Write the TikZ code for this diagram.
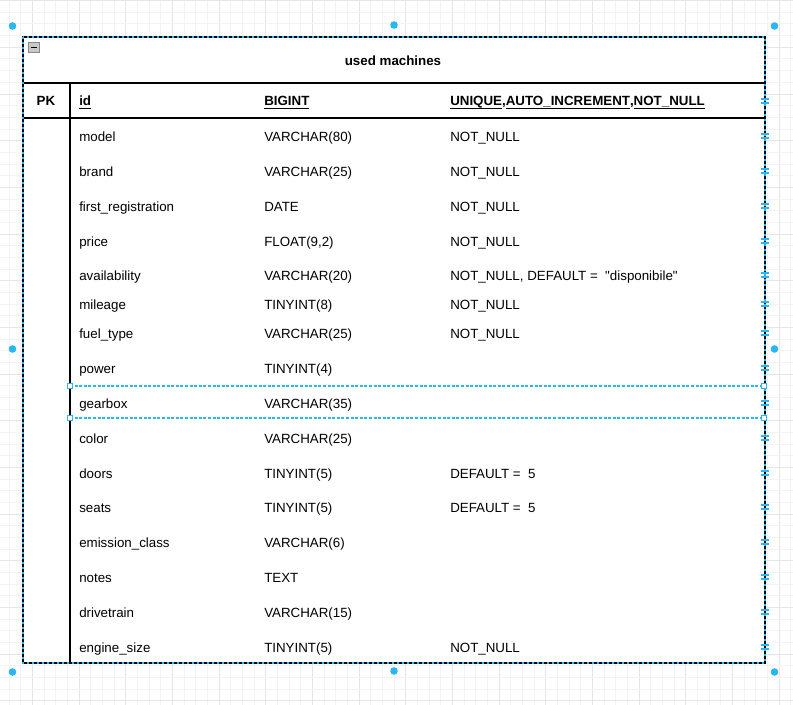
\documentclass[tikz,border=0pt]{standalone}
\usepackage{fontspec}
\setmainfont{Liberation Sans}
\newfontfamily\qfont{Liberation Sans}[Ligatures=TeXOff]
\definecolor{gridminor}{HTML}{F3F3F3}
\definecolor{gridmajor}{HTML}{E6E6E6}
\definecolor{selblue}{HTML}{29B6F2}
\definecolor{iconfill}{HTML}{C8C8C8}
\definecolor{iconline}{HTML}{8A8A8A}
\newsavebox{\ulbox}
\newcommand{\myul}[1]{\sbox{\ulbox}{#1}\rlap{\rule[-2.4pt]{\wd\ulbox}{0.75pt}}\usebox{\ulbox}}
\newcommand{\dq}{{\qfont\symbol{34}}}
\begin{document}
\begin{tikzpicture}[x=0.75pt,y=-0.75pt,
  txt/.style={anchor=base west,inner sep=0pt,font=\fontsize{10pt}{12pt}\selectfont,text=black},
  hdr/.style={txt,font=\bfseries\fontsize{10pt}{12pt}\selectfont},
  seldot/.style={fill=selblue,draw=none},
  handle/.style={draw=selblue,fill=white,line width=0.75pt},
  rowmark/.style={draw=selblue,line width=0.9pt}]
\useasboundingbox (0,0) rectangle (793,705);
\fill[white] (0,0) rectangle (793,705);
% grid
\foreach \i in {0,...,68} {
  \pgfmathsetmacro\gx{9+11.667*\i}
  \pgfmathtruncatemacro\gm{mod(\i,4)}
  \ifnum\gm=2 \draw[gridmajor,line width=0.75pt] (\gx,0) -- (\gx,705);
  \else \draw[gridminor,line width=0.75pt] (\gx,0) -- (\gx,705); \fi
}
\foreach \i in {0,...,61} {
  \pgfmathsetmacro\gy{0.67+11.667*\i}
  \pgfmathtruncatemacro\gm{mod(\i,4)}
  \ifnum\gm=0 \draw[gridmajor,line width=0.75pt] (0,\gy) -- (793,\gy);
  \else \draw[gridminor,line width=0.75pt] (0,\gy) -- (793,\gy); \fi
}
% table
\fill[white] (23,37) rectangle (765,663);
\draw[black,line width=0.9pt] (23,83) -- (765,83);
\draw[black,line width=0.9pt] (23,118) -- (765,118);
\draw[black,line width=0.9pt] (70,83) -- (70,663);
\draw[black,line width=0.9pt] (23,37) rectangle (765,663);
\draw[selblue,line width=0.9pt,dash pattern=on 1.5pt off 2.25pt] (23,37) rectangle (765,663);
% collapse icon
\draw[iconline,fill=iconfill,line width=0.6pt] (28,42) rectangle (39,52.5);
\draw[black,line width=0.9pt] (30.5,47.2) -- (36.5,47.2);
% title
\node[hdr,anchor=base] (title) at (393,66) {used machines};
% header row
\node[hdr,anchor=base] (pk) at (46,106) {PK};
\node[hdr] (idn) at (79,106) {\myul{id}};
\node[hdr] (idt) at (264,106) {\myul{BIGINT}};
\node[hdr] (idc) at (450,106) {\myul{UNIQUE},\myul{AUTO\_INCREMENT},\myul{NOT\_NULL}};
% rows
\foreach \y/\n/\t/\c [count=\k] in {
  136/model/VARCHAR(80)/NOT\_NULL,
  171/brand/VARCHAR(25)/NOT\_NULL,
  206/first\_registration/DATE/NOT\_NULL,
  241/price/{FLOAT(9,2)}/NOT\_NULL,
  275/availability/VARCHAR(20)/{NOT\_NULL, DEFAULT =\ \ \dq disponibile\dq},
  304/mileage/TINYINT(8)/NOT\_NULL,
  333/fuel\_type/VARCHAR(25)/NOT\_NULL,
  368/power/TINYINT(4)/{},
  403/gearbox/VARCHAR(35)/{},
  438/color/VARCHAR(25)/{},
  473/doors/TINYINT(5)/{DEFAULT =\ \ 5},
  507/seats/TINYINT(5)/{DEFAULT =\ \ 5},
  542/emission\_class/VARCHAR(6)/{},
  577/notes/TEXT/{},
  612/drivetrain/VARCHAR(15)/{},
  647/engine\_size/TINYINT(5)/NOT\_NULL} {
  \node[txt] (n\k) at (79,\y+5.3) {\n};
  \node[txt] (t\k) at (264,\y+5.3) {\t};
  \node[txt] (c\k) at (450,\y+5.3) {\c};
  \draw[rowmark] (761,\y-2) -- (769,\y-2) (761,\y+2) -- (769,\y+2);
}
\draw[rowmark] (761,99) -- (769,99) (761,103) -- (769,103);
% selected row
\draw[selblue,line width=0.9pt,dash pattern=on 2.25pt off 1.2pt] (70,386) -- (764,386) (70,418) -- (764,418);
\foreach \hx/\hy in {70/386,764/386,70/418,764/418}
  \draw[handle] (\hx-2.5,\hy-2.5) rectangle (\hx+2.5,\hy+2.5);
% selection dots
\foreach \dx/\dy in {12.5/26,394/25,774.5/26,12.5/349,774.5/349,12.5/672,394/671,774.5/672}
  \fill[seldot] (\dx,\dy) circle (3.8);
\end{tikzpicture}
\end{document}
